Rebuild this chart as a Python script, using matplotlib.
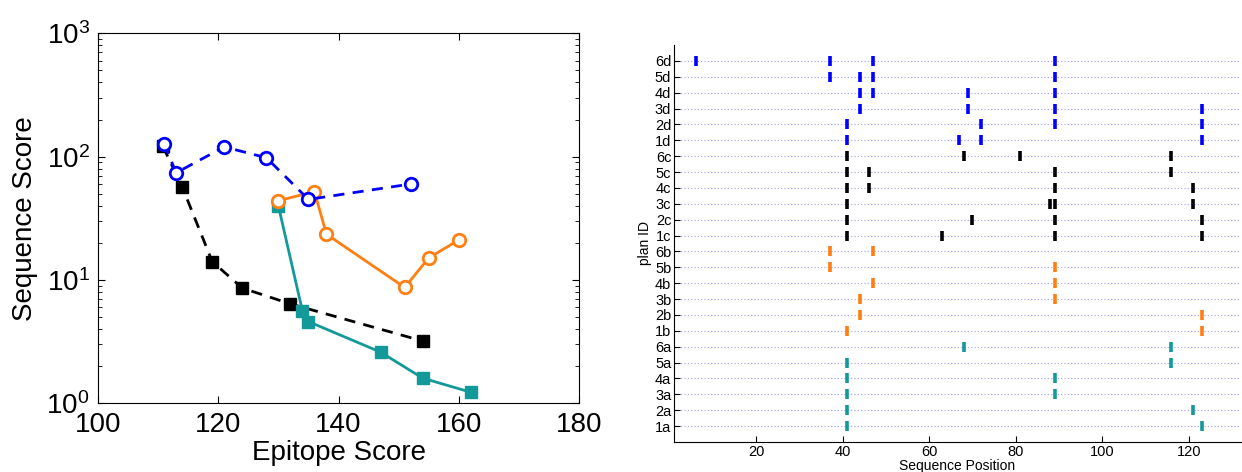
import matplotlib

matplotlib.use("Agg")
import matplotlib.pyplot as plt

plt.rcParams["font.family"] = ["Liberation Sans", "DejaVu Sans"]
plt.rcParams["mathtext.fontset"] = "custom"
plt.rcParams["mathtext.rm"] = "Liberation Sans"
plt.rcParams["mathtext.it"] = "Liberation Sans:italic"

# left panel: epitope score vs sequence score
blue_x = [111, 113, 121, 128, 135, 152]
blue_y = [127, 74, 120, 98, 45, 60]
black_x = [110.8, 114, 119, 124, 132, 154]
black_y = [121, 57, 14.1, 8.6, 6.4, 3.2]
teal_x = [130, 134, 135, 147, 154, 162]
teal_y = [40, 5.6, 4.6, 2.6, 1.6, 1.23]
orange_x = [130, 136, 138, 151, 155, 160]
orange_y = [44, 52, 23.5, 8.7, 15.1, 21.1]

# right panel: mutated sequence positions for each plan
plan_ids = [f"{n}{g}" for g in "abcd" for n in range(1, 7)]
positions = {
    "1a": [41, 123], "2a": [41, 121], "3a": [41, 89],
    "4a": [41, 89], "5a": [41, 116], "6a": [68, 116],
    "1b": [41, 123], "2b": [44, 123], "3b": [44, 89],
    "4b": [47, 89], "5b": [37, 89], "6b": [37, 47],
    "1c": [41, 63, 89, 123], "2c": [41, 70, 89, 123],
    "3c": [41, 88, 89, 121], "4c": [41, 46, 89, 121],
    "5c": [41, 46, 89, 116], "6c": [41, 68, 81, 116],
    "1d": [41, 67, 72, 123], "2d": [41, 72, 89, 123],
    "3d": [44, 69, 89, 123], "4d": [44, 47, 69, 89],
    "5d": [37, 44, 47, 89], "6d": [6, 37, 47, 89],
}

BLUE = "#0000ff"
BLACK = "#000000"
TEAL = "#14999a"
ORANGE = "#ff7f12"
group_colors = {"a": TEAL, "b": ORANGE, "c": BLACK, "d": BLUE}

fig = plt.figure(figsize=(12.42, 4.72), dpi=100)

# ---- left panel
ax1 = fig.add_axes([0.0789, 0.1455, 0.3873, 0.7839])
ax1.plot(black_x, black_y, "--", color=BLACK, lw=2, marker="s", ms=8,
         mfc=BLACK, mec=BLACK, dashes=(4, 3))
ax1.plot(teal_x, teal_y, "-", color=TEAL, lw=2, marker="s", ms=8,
         mfc=TEAL, mec=TEAL)
ax1.plot(orange_x, orange_y, "-", color=ORANGE, lw=2, marker="o", ms=9,
         mfc="white", mec=ORANGE, mew=2)
ax1.plot(blue_x, blue_y, "--", color=BLUE, lw=2, marker="o", ms=9,
         mfc="white", mec=BLUE, mew=2, dashes=(4, 3))
ax1.set_yscale("log")
ax1.set_xlim(100, 180)
ax1.set_ylim(1, 1000)
ax1.set_xticks([100, 120, 140, 160, 180])
ax1.tick_params(which="both", direction="in", top=True, right=True,
                labelsize=20, pad=6)
ax1.tick_params(which="major", length=5)
ax1.tick_params(which="minor", length=3)
ax1.set_xlabel("Epitope Score", fontsize=20, labelpad=2)
ax1.set_ylabel("Sequence Score", fontsize=20, labelpad=6)

# ---- right panel
ax2 = fig.add_axes([0.5427, 0.0636, 0.4562, 0.8411])
for row, pid in enumerate(plan_ids, start=1):
    xs = positions[pid]
    ax2.plot(xs, [row] * len(xs), linestyle="none", marker="|", ms=7,
             mew=2.6, color=group_colors[pid[-1]])
ax2.set_xlim(1, 132)
ax2.set_ylim(0, 25)
ax2.set_yticks(range(1, len(plan_ids) + 1))
ax2.set_yticklabels(plan_ids)
ax2.set_xticks([20, 40, 60, 80, 100, 120])
ax2.yaxis.grid(True, linestyle=(0, (1, 2)), color="#9fa0f0", lw=0.8)
ax2.set_axisbelow(True)
ax2.spines["top"].set_visible(False)
ax2.spines["right"].set_visible(False)
ax2.tick_params(direction="in", labelsize=10.5, length=4, pad=2)
ax2.set_xlabel("Sequence Position", fontsize=10, labelpad=0)
ax2.set_ylabel("plan ID", fontsize=10, labelpad=2)

fig.savefig("out.png", dpi=100)
